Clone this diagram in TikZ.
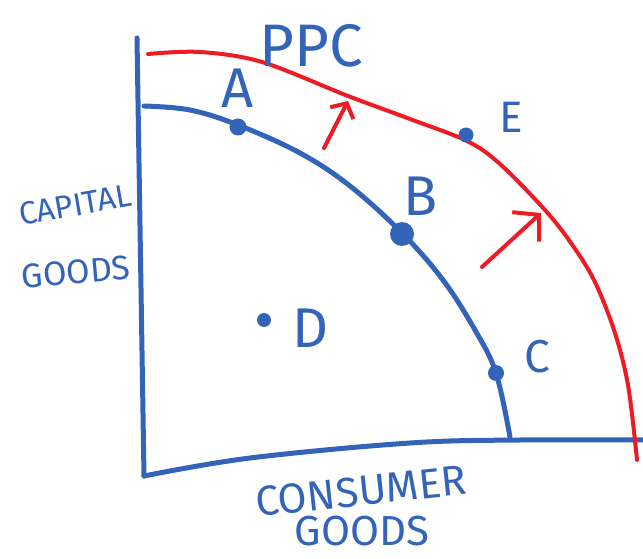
\documentclass[tikz,border=0pt]{standalone}
\usepackage{fontspec}
\setmainfont{Fira Sans}
\usetikzlibrary{arrows.meta}

\definecolor{penblue}{RGB}{52,100,186}
\definecolor{penred}{RGB}{237,28,36}

\begin{document}
\begin{tikzpicture}[x=1pt, y=-1pt,
  axis/.style={draw=penblue, line width=5pt, line cap=round, line join=round},
  oldppc/.style={draw=penblue, line width=5pt, line cap=round},
  newppc/.style={draw=penred, line width=4pt, line cap=round},
  growth/.style={draw=penred, line width=4pt, line cap=round, line join=round},
  dot/.style={circle, fill=penblue, inner sep=0pt, minimum size=#1},
  dot/.default=15pt,
  letter/.style={text=penblue, inner sep=0pt, font=\fontsize{56}{56}\selectfont},
  axislabel/.style={text=penblue, inner sep=0pt, font=\fontsize{#1}{#1}\selectfont},
  axislabel/.default=32
]
\useasboundingbox (0,0) rectangle (643,559);

% axes
\coordinate (ytop) at (137,38);
\coordinate (origin) at (144,476);
\coordinate (xend) at (643,440);
\draw[axis] (ytop) -- (origin);
\draw[axis] plot[smooth, tension=0.6] coordinates {(144,476) (250,458) (410,443) (520,440) (643,440)};

% curves
\draw[oldppc] plot[smooth, tension=0.6] coordinates {(144,106) (190,110) (238,125) (300,153) (350,186) (402,233) (443,280) (475,330) (496,373) (510,437)};
\draw[newppc] plot[smooth, tension=0.55] coordinates {(148,54) (200,52) (262,62) (348,96) (410,119) (467,141) (500,164) (545,210) (571,243) (594,280) (614,330) (628,385) (637,460)};

% points
\node[dot=17pt] (ptA) at (238,127) {};
\node[dot=24pt] (ptB) at (402,234) {};
\node[dot=16pt] (ptC) at (496,373) {};
\node[dot=14pt] (ptD) at (264,320) {};
\node[dot=15pt] (ptE) at (466,135) {};

\node[letter, font=\fontsize{60}{60}\selectfont] (ppc) at (311,46) {PPC};
\node[letter] (labA) at (238,88) {A};
\node[letter, font=\fontsize{44}{44}\selectfont] (labE) at (511,117) {E};
\node[letter] (labB) at (421,196) {B};
\node[letter, font=\fontsize{46}{46}\selectfont] (labC) at (537,357) {C};
\node[letter] (labD) at (311,328) {D};

\node[axislabel, rotate=10] (cap) at (75,205) {CAPITAL};
\node[axislabel=34, rotate=5] (capg) at (76,272) {GOODS};
\node[axislabel=42, rotate=6] (cons) at (361,491) {CONSUMER};
\node[axislabel=42] (consg) at (362,531) {GOODS};

% outward shifts
\coordinate (s1) at (324,148);
\coordinate (t1) at (348,101);
\coordinate (s2) at (482,267);
\coordinate (t2) at (541,213);
\draw[growth, -{Straight Barb[length=11pt, width=26pt]}] (s1) -- (t1);
\draw[growth, -{Straight Barb[length=18pt, width=40pt]}] (s2) -- (t2);
\end{tikzpicture}
\end{document}
